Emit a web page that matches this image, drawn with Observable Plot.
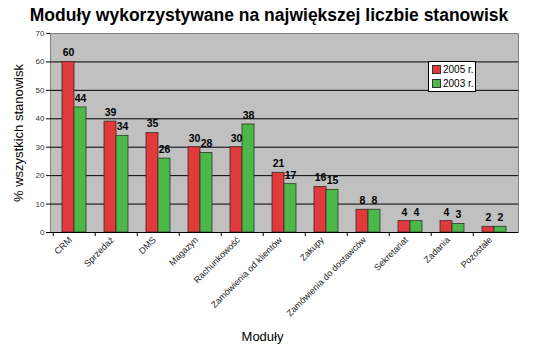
<!DOCTYPE html>
<html><head><meta charset="utf-8">
<script src="https://cdn.jsdelivr.net/npm/d3@7"></script>
<script src="https://cdn.jsdelivr.net/npm/@observablehq/plot@0.6"></script>
<style>
body{margin:0;background:#fff;font-family:"Liberation Sans",Arial,sans-serif;}
#wrap{position:relative;width:550px;height:352px;overflow:hidden;}
#title{height:26px;text-align:center;font-weight:bold;font-size:17.5px;line-height:30px;padding-right:12px;color:#000;}
#legend{position:absolute;left:428px;top:61px;width:46px;height:29px;background:#fff;border:1px solid #000;font-size:10px;color:#000;}
#legend div{position:absolute;left:3px;height:12px;line-height:12px;white-space:nowrap;}
#legend span{display:inline-block;width:7px;height:7px;border:1px solid #333;margin-right:2px;vertical-align:-1px;}
</style></head><body>
<div id="wrap">
<div id="title">Moduły wykorzystywane na największej liczbie stanowisk</div>
<div id="chart"></div>
<div id="legend"></div>
</div>
<script>
const categories = ["CRM","Sprzedaż","DMS","Magazyn","Rachunkowość","Zamówienia od klientów","Zakupy","Zamówienia do dostawców","Sekretariat","Zadania","Pozostałe"];
const series = ["2005 r.","2003 r."];
const values2005 = [60,39,35,30,30,21,16,8,4,4,2];
const values2003 = [44,34,26,28,38,17,15,8,4,3,2];
const yTicks = [0,10,20,30,40,50,60,70];
const colors = ["#e23a3a","#4cb84a"];

const t2005 = categories.map((c,i)=>({cat:c, v:values2005[i]}));
const t2003 = categories.map((c,i)=>({cat:c, v:values2003[i]}));

const plot = Plot.plot({
  width: 550,
  height: 326,
  marginTop: 7,
  marginLeft: 50,
  marginRight: 32,
  marginBottom: 120,
  style: {fontFamily: '"Liberation Sans", Arial, sans-serif', background: "transparent"},
  x: {domain: categories, paddingInner: 0.435, paddingOuter: 0.2175, align: 0.5},
  y: {domain: [0,70]},
  marks: [
    Plot.frame({fill: "#c0c0c0", stroke: "#808080"}),
    Plot.gridY(yTicks.filter(d=>d>0 && d<70), {stroke: "#000", strokeOpacity: 1, strokeWidth: 1}),
    Plot.barY(t2005, {x: "cat", y: "v", fill: colors[0], stroke: "#3a2a2a", strokeWidth: 0.8, insetRight: 12}),
    Plot.barY(t2003, {x: "cat", y: "v", fill: colors[1], stroke: "#2a3a2a", strokeWidth: 0.8, insetLeft: 12}),
    Plot.text(t2005, {x: "cat", y: "v", text: d=>String(d.v), dx: -6, dy: -9, fontWeight: "bold", fontSize: 10.5, fill: "#000"}),
    Plot.text(t2003, {x: "cat", y: "v", text: d=>String(d.v), dx: 6, dy: -9, fontWeight: "bold", fontSize: 10.5, fill: "#000"}),
    Plot.ruleX([0], {frameAnchor: "left", stroke: "#000"}),
    Plot.ruleY([0], {stroke: "#000"}),
    Plot.axisY(yTicks, {tickSize: 4, tickPadding: 2, fontSize: 8, fill: "#333", stroke: "#000", label: "% wszystkich stanowisk", labelAnchor: "center", labelOffset: 37, labelArrow: "none"}),
    Plot.axisX({tickSize: 4, dx: -21.27, text: null, label: null, stroke: "#000"}),
    Plot.axisX({tickSize: 0, tickRotate: -45, tickPadding: 6, dx: -4, fontSize: 9, fill: "#222", label: null}),
    Plot.text(["Moduły"], {frameAnchor: "bottom", dy: 108, dx: -22, fontSize: 13, fill: "#000"})
  ]
});
document.getElementById("chart").appendChild(plot);

// y-axis label font size
plot.querySelectorAll("text").forEach(t=>{ if (t.textContent.includes("wszystkich")) { t.setAttribute("font-size", "13"); t.setAttribute("fill", "#000"); } });

const leg = document.getElementById("legend");
series.forEach((s,i)=>{
  const d = document.createElement("div");
  d.style.top = (2 + i*14) + "px";
  d.innerHTML = `<span style="background:${colors[i]}"></span>${s}`;
  leg.appendChild(d);
});
</script>
</body></html>
